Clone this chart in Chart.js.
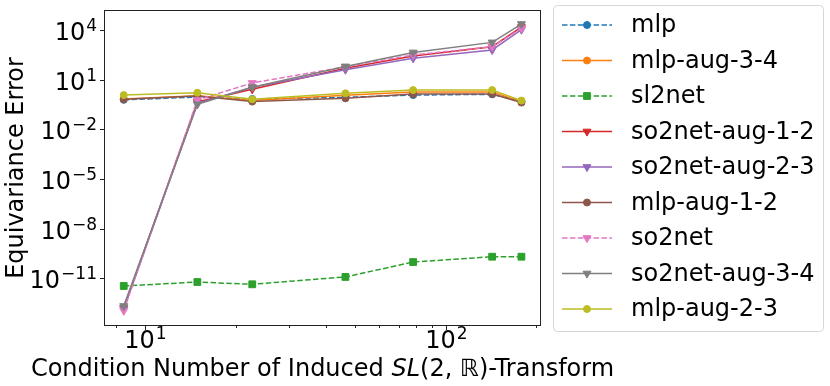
<!DOCTYPE html>
<html>
<head>
<meta charset="utf-8">
<script src="https://cdn.jsdelivr.net/npm/chart.js@4.4.1/dist/chart.umd.min.js"></script>
<style>
  html, body { margin: 0; padding: 0; background: #fff; }
</style>
</head>
<body>
<canvas id="chart" width="830" height="386"></canvas>
<script>
// condition numbers (x)
const condNumbers = [8.47, 14.9, 22.7, 46.4, 78.0, 143, 179];

// equivariance error per model
const mlp          = [0.60, 0.89, 0.68, 0.85, 1.17, 1.29, 0.50];
const mlpAug34     = [0.68, 1.07, 0.54, 1.12, 1.78, 1.78, 0.47];
const sl2net       = [3.4e-12, 5.9e-12, 4.3e-12, 1.2e-11, 9.5e-11, 2.0e-10, 2.0e-10];
const so2netAug12  = [1.6e-13, 0.45, 2.6, 48, 270, 980, 15000];
const so2netAug23  = [1.4e-13, 0.37, 3.5, 40, 195, 620, 10500];
const mlpAug12     = [0.65, 1.02, 0.47, 0.74, 1.35, 1.35, 0.41];
const so2net       = [1.1e-13, 0.59, 6.3, 60, 310, 980, 12600];
const so2netAug34  = [2.1e-13, 0.32, 3.5, 63, 440, 1780, 22900];
const mlpAug23     = [1.17, 1.62, 0.65, 1.48, 2.34, 2.34, 0.54];

const seriesNames = ["mlp", "mlp-aug-3-4", "sl2net", "so2net-aug-1-2", "so2net-aug-2-3",
                     "mlp-aug-1-2", "so2net", "so2net-aug-3-4", "mlp-aug-2-3"];
const seriesValues = [mlp, mlpAug34, sl2net, so2netAug12, so2netAug23, mlpAug12, so2net, so2netAug34, mlpAug23];

const yTickExps = [4, 1, -2, -5, -8, -11];
const xMajor = [10, 100];
const xMinor = [8, 20, 30, 40, 50, 60, 70, 80, 90, 200];

// styles (matplotlib tab10)
const colors = ["#1f77b4", "#ff7f0e", "#2ca02c", "#d62728", "#9467bd", "#8c564b", "#e377c2", "#7f7f7f", "#bcbd22"];
const markers = ["circle", "circle", "rect", "tri", "tri", "circle", "tri", "tri", "circle"];
const dashed = [true, false, true, false, false, false, true, false, false];

const FONT = '"DejaVu Sans", sans-serif';

const datasets = seriesNames.map((name, i) => {
  const m = markers[i];
  return {
    label: name,
    data: condNumbers.map((x, j) => ({ x: x, y: seriesValues[i][j] })),
    borderColor: colors[i],
    backgroundColor: colors[i],
    pointBackgroundColor: colors[i],
    pointBorderColor: colors[i],
    borderWidth: 1.5,
    borderDash: dashed[i] ? [5.5, 2.4] : [],
    pointStyle: m === "tri" ? "triangle" : m,
    pointRotation: m === "tri" ? 180 : 0,
    pointRadius: m === "circle" ? 3.5 : (m === "rect" ? 4.8 : 4.6),
    pointBorderWidth: 1,
    tension: 0,
    fill: false,
    order: seriesNames.length - i
  };
});

// draw "10^exp" label
function powLabel(ctx, exp, x, yBase, align) {
  const base = "10";
  const sup = String(exp).replace("-", "\u2212");
  ctx.font = "24px " + FONT;
  const wb = ctx.measureText(base).width;
  ctx.font = "17px " + FONT;
  const ws = ctx.measureText(sup).width;
  const total = wb + ws + 1;
  let left = align === "right" ? x - total : x - total / 2;
  ctx.textAlign = "left";
  ctx.textBaseline = "alphabetic";
  ctx.font = "24px " + FONT;
  ctx.fillText(base, left, yBase);
  ctx.font = "17px " + FONT;
  ctx.fillText(sup, left + wb + 1, yBase - 9);
}

const axisArt = {
  id: "axisArt",
  afterDraw(chart) {
    const ctx = chart.ctx, a = chart.chartArea;
    const xs = chart.scales.x, ys = chart.scales.y;
    ctx.save();
    ctx.strokeStyle = "#222";
    ctx.lineWidth = 1;
    ctx.setLineDash([]);
    ctx.strokeRect(Math.round(a.left) + 0.5, Math.round(a.top) + 0.5,
                   Math.round(a.width) - 1, Math.round(a.height) - 1);

    ctx.fillStyle = "#000";
    // y ticks
    yTickExps.forEach(e => {
      const py = Math.round(ys.getPixelForValue(Math.pow(10, e))) + 0.5;
      ctx.beginPath();
      ctx.moveTo(a.left, py);
      ctx.lineTo(a.left - 4, py);
      ctx.stroke();
      powLabel(ctx, e, a.left - 7, py + 9, "right");
    });
    // x ticks
    xMajor.forEach(v => {
      const px = Math.round(xs.getPixelForValue(v)) + 0.5;
      ctx.beginPath();
      ctx.moveTo(px, a.bottom);
      ctx.lineTo(px, a.bottom + 4);
      ctx.stroke();
      powLabel(ctx, Math.round(Math.log10(v)), px, a.bottom + 22, "center");
    });
    xMinor.forEach(v => {
      const px = Math.round(xs.getPixelForValue(v)) + 0.5;
      ctx.beginPath();
      ctx.moveTo(px, a.bottom);
      ctx.lineTo(px, a.bottom + 2);
      ctx.stroke();
    });

    // x title with italic SL
    const parts = [["Condition Number of Induced ", ""], ["SL", "italic "], ["(2, \u211D)-Transform", ""]];
    let w = 0;
    parts.forEach(p => { ctx.font = p[1] + "24px " + FONT; w += ctx.measureText(p[0]).width; });
    let x = (a.left + a.right) / 2 - w / 2;
    ctx.textAlign = "left";
    ctx.textBaseline = "alphabetic";
    parts.forEach(p => {
      ctx.font = p[1] + "24px " + FONT;
      ctx.fillText(p[0], x, 376);
      x += ctx.measureText(p[0]).width;
    });

    // y title
    ctx.save();
    ctx.translate(23, (a.top + a.bottom) / 2);
    ctx.rotate(-Math.PI / 2);
    ctx.font = "24px " + FONT;
    ctx.textAlign = "center";
    ctx.fillText("Equivariance Error", 0, 0);
    ctx.restore();
    ctx.restore();
  }
};

const legendBox = {
  id: "legendBox",
  afterDraw(chart) {
    const ctx = chart.ctx;
    ctx.save();
    const bx = 553.5, by = 5.5, bw = 270, bh = 326, r = 4;
    ctx.beginPath();
    ctx.moveTo(bx + r, by);
    ctx.arcTo(bx + bw, by, bx + bw, by + bh, r);
    ctx.arcTo(bx + bw, by + bh, bx, by + bh, r);
    ctx.arcTo(bx, by + bh, bx, by, r);
    ctx.arcTo(bx, by, bx + bw, by, r);
    ctx.closePath();
    ctx.fillStyle = "rgba(255,255,255,0.8)";
    ctx.fill();
    ctx.strokeStyle = "#d6d6d6";
    ctx.lineWidth = 1;
    ctx.stroke();

    chart.data.datasets.forEach((ds, i) => {
      const y = 25 + i * 35.5;
      ctx.strokeStyle = ds.borderColor;
      ctx.fillStyle = ds.borderColor;
      ctx.lineWidth = ds.borderWidth;
      ctx.setLineDash(ds.borderDash);
      ctx.beginPath();
      ctx.moveTo(562, y);
      ctx.lineTo(612, y);
      ctx.stroke();
      ctx.setLineDash([]);
      ctx.lineWidth = ds.pointBorderWidth;
      Chart.helpers.drawPoint(ctx, {
        pointStyle: ds.pointStyle,
        rotation: ds.pointRotation,
        radius: ds.pointRadius,
        borderWidth: ds.pointBorderWidth
      }, 587, y);
      ctx.fillStyle = "#000";
      ctx.font = "24px " + FONT;
      ctx.textAlign = "left";
      ctx.textBaseline = "middle";
      ctx.fillText(ds.label, 631, y + 1);
    });
    ctx.restore();
  }
};

new Chart(document.getElementById("chart").getContext("2d"), {
  type: "line",
  data: { datasets: datasets },
  options: {
    responsive: false,
    animation: false,
    events: [],
    layout: { padding: { top: 10, right: 289, left: 0, bottom: 0 } },
    plugins: { legend: { display: false }, tooltip: { enabled: false } },
    scales: {
      x: {
        type: "logarithmic",
        min: 7.28, max: 208,
        bounds: "data",
        grid: { display: false },
        border: { display: false },
        ticks: { display: false },
        afterFit(s) { s.height = 60; }
      },
      y: {
        type: "logarithmic",
        min: 1.3e-14, max: 1.61e5,
        bounds: "data",
        grid: { display: false },
        border: { display: false },
        ticks: { display: false },
        afterFit(s) { s.width = 104; }
      }
    }
  },
  plugins: [axisArt, legendBox]
});
</script>
</body>
</html>
